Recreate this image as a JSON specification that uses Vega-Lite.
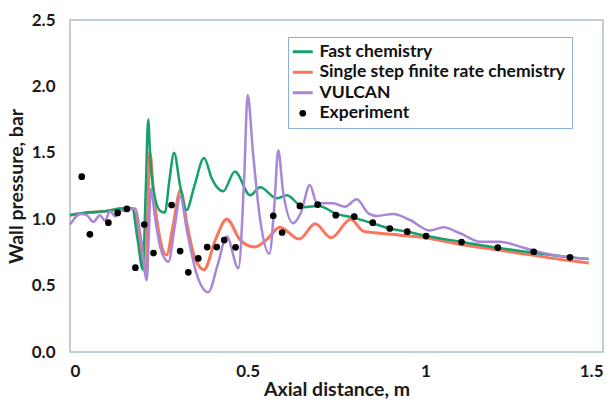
{
  "$schema": "https://vega.github.io/schema/vega-lite/v6.json",
  "autosize": "none",
  "width": 533,
  "height": 332,
  "padding": {"left": 70, "top": 20, "right": 13, "bottom": 49},
  "background": "white",
  "config": {
    "view": {"stroke": "#a9bfd0", "strokeWidth": 1.5},
    "font": "Lato",
    "axis": {"grid": false, "domain": false, "ticks": false, "labelFont": "Lato", "labelFontWeight": "bold", "labelFontSize": 17, "labelColor": "#1a1a1a", "titleFont": "Lato", "titleFontWeight": "bold", "titleFontSize": 19.5, "titleColor": "#1a1a1a"}
  },
  "datasets": {
    "curves": [
      {"series": "Fast chemistry", "x": 0, "y": 1.03},
      {"series": "Fast chemistry", "x": 0.05, "y": 1.05},
      {"series": "Fast chemistry", "x": 0.1, "y": 1.06},
      {"series": "Fast chemistry", "x": 0.15, "y": 1.08},
      {"series": "Fast chemistry", "x": 0.175, "y": 1.08},
      {"series": "Fast chemistry", "x": 0.19, "y": 0.85},
      {"series": "Fast chemistry", "x": 0.205, "y": 0.62},
      {"series": "Fast chemistry", "x": 0.213, "y": 1.2},
      {"series": "Fast chemistry", "x": 0.22, "y": 1.75},
      {"series": "Fast chemistry", "x": 0.226, "y": 1.45},
      {"series": "Fast chemistry", "x": 0.24, "y": 1.15},
      {"series": "Fast chemistry", "x": 0.255, "y": 1.06},
      {"series": "Fast chemistry", "x": 0.267, "y": 1.05},
      {"series": "Fast chemistry", "x": 0.28, "y": 1.3},
      {"series": "Fast chemistry", "x": 0.293, "y": 1.5},
      {"series": "Fast chemistry", "x": 0.31, "y": 1.25},
      {"series": "Fast chemistry", "x": 0.328, "y": 1.07},
      {"series": "Fast chemistry", "x": 0.35, "y": 1.25},
      {"series": "Fast chemistry", "x": 0.377, "y": 1.46},
      {"series": "Fast chemistry", "x": 0.4, "y": 1.3},
      {"series": "Fast chemistry", "x": 0.431, "y": 1.21},
      {"series": "Fast chemistry", "x": 0.464, "y": 1.36},
      {"series": "Fast chemistry", "x": 0.507, "y": 1.18},
      {"series": "Fast chemistry", "x": 0.535, "y": 1.24},
      {"series": "Fast chemistry", "x": 0.582, "y": 1.157},
      {"series": "Fast chemistry", "x": 0.61, "y": 1.18},
      {"series": "Fast chemistry", "x": 0.657, "y": 1.09},
      {"series": "Fast chemistry", "x": 0.7, "y": 1.1},
      {"series": "Fast chemistry", "x": 0.75, "y": 1.04},
      {"series": "Fast chemistry", "x": 0.8, "y": 1.01},
      {"series": "Fast chemistry", "x": 0.85, "y": 0.97},
      {"series": "Fast chemistry", "x": 0.9, "y": 0.93},
      {"series": "Fast chemistry", "x": 0.95, "y": 0.905},
      {"series": "Fast chemistry", "x": 1.0, "y": 0.875},
      {"series": "Fast chemistry", "x": 1.1, "y": 0.83},
      {"series": "Fast chemistry", "x": 1.2, "y": 0.785},
      {"series": "Fast chemistry", "x": 1.3, "y": 0.75},
      {"series": "Fast chemistry", "x": 1.4, "y": 0.715},
      {"series": "Fast chemistry", "x": 1.46, "y": 0.7},

      {"series": "Single step finite rate chemistry", "x": 0, "y": 1.03},
      {"series": "Single step finite rate chemistry", "x": 0.05, "y": 1.05},
      {"series": "Single step finite rate chemistry", "x": 0.1, "y": 1.06},
      {"series": "Single step finite rate chemistry", "x": 0.15, "y": 1.08},
      {"series": "Single step finite rate chemistry", "x": 0.175, "y": 1.08},
      {"series": "Single step finite rate chemistry", "x": 0.19, "y": 0.95},
      {"series": "Single step finite rate chemistry", "x": 0.2, "y": 0.74},
      {"series": "Single step finite rate chemistry", "x": 0.214, "y": 0.6},
      {"series": "Single step finite rate chemistry", "x": 0.22, "y": 1.2},
      {"series": "Single step finite rate chemistry", "x": 0.225, "y": 1.5},
      {"series": "Single step finite rate chemistry", "x": 0.235, "y": 1.2},
      {"series": "Single step finite rate chemistry", "x": 0.25, "y": 0.9},
      {"series": "Single step finite rate chemistry", "x": 0.272, "y": 0.73},
      {"series": "Single step finite rate chemistry", "x": 0.29, "y": 0.95},
      {"series": "Single step finite rate chemistry", "x": 0.311, "y": 1.22},
      {"series": "Single step finite rate chemistry", "x": 0.33, "y": 0.95},
      {"series": "Single step finite rate chemistry", "x": 0.35, "y": 0.72},
      {"series": "Single step finite rate chemistry", "x": 0.377, "y": 0.62},
      {"series": "Single step finite rate chemistry", "x": 0.41, "y": 0.85},
      {"series": "Single step finite rate chemistry", "x": 0.441, "y": 1.0},
      {"series": "Single step finite rate chemistry", "x": 0.48, "y": 0.84},
      {"series": "Single step finite rate chemistry", "x": 0.52, "y": 0.79},
      {"series": "Single step finite rate chemistry", "x": 0.555, "y": 0.85},
      {"series": "Single step finite rate chemistry", "x": 0.59, "y": 0.94},
      {"series": "Single step finite rate chemistry", "x": 0.645, "y": 0.85},
      {"series": "Single step finite rate chemistry", "x": 0.69, "y": 0.965},
      {"series": "Single step finite rate chemistry", "x": 0.735, "y": 0.86},
      {"series": "Single step finite rate chemistry", "x": 0.79, "y": 1.0},
      {"series": "Single step finite rate chemistry", "x": 0.825, "y": 0.91},
      {"series": "Single step finite rate chemistry", "x": 0.87, "y": 0.895},
      {"series": "Single step finite rate chemistry", "x": 0.93, "y": 0.88},
      {"series": "Single step finite rate chemistry", "x": 1.0, "y": 0.86},
      {"series": "Single step finite rate chemistry", "x": 1.1, "y": 0.81},
      {"series": "Single step finite rate chemistry", "x": 1.2, "y": 0.77},
      {"series": "Single step finite rate chemistry", "x": 1.3, "y": 0.73},
      {"series": "Single step finite rate chemistry", "x": 1.4, "y": 0.69},
      {"series": "Single step finite rate chemistry", "x": 1.46, "y": 0.67},

      {"series": "VULCAN", "x": 0, "y": 0.96},
      {"series": "VULCAN", "x": 0.03, "y": 1.04},
      {"series": "VULCAN", "x": 0.047, "y": 1.03},
      {"series": "VULCAN", "x": 0.066, "y": 0.98},
      {"series": "VULCAN", "x": 0.084, "y": 1.03},
      {"series": "VULCAN", "x": 0.098, "y": 0.99},
      {"series": "VULCAN", "x": 0.113, "y": 1.06},
      {"series": "VULCAN", "x": 0.127, "y": 1.02},
      {"series": "VULCAN", "x": 0.141, "y": 1.06},
      {"series": "VULCAN", "x": 0.16, "y": 1.07},
      {"series": "VULCAN", "x": 0.183, "y": 1.08},
      {"series": "VULCAN", "x": 0.2, "y": 0.85},
      {"series": "VULCAN", "x": 0.216, "y": 0.54},
      {"series": "VULCAN", "x": 0.222, "y": 0.9},
      {"series": "VULCAN", "x": 0.227, "y": 1.23},
      {"series": "VULCAN", "x": 0.24, "y": 1.0},
      {"series": "VULCAN", "x": 0.255, "y": 0.78},
      {"series": "VULCAN", "x": 0.277, "y": 0.68},
      {"series": "VULCAN", "x": 0.295, "y": 0.95},
      {"series": "VULCAN", "x": 0.31, "y": 1.17},
      {"series": "VULCAN", "x": 0.33, "y": 0.9},
      {"series": "VULCAN", "x": 0.355, "y": 0.6},
      {"series": "VULCAN", "x": 0.389, "y": 0.45},
      {"series": "VULCAN", "x": 0.415, "y": 0.65},
      {"series": "VULCAN", "x": 0.441, "y": 0.87},
      {"series": "VULCAN", "x": 0.474, "y": 0.63},
      {"series": "VULCAN", "x": 0.49, "y": 1.3},
      {"series": "VULCAN", "x": 0.5, "y": 1.935},
      {"series": "VULCAN", "x": 0.515, "y": 1.5},
      {"series": "VULCAN", "x": 0.535, "y": 1.0},
      {"series": "VULCAN", "x": 0.561, "y": 0.74},
      {"series": "VULCAN", "x": 0.575, "y": 1.1},
      {"series": "VULCAN", "x": 0.586, "y": 1.52},
      {"series": "VULCAN", "x": 0.6, "y": 1.2},
      {"series": "VULCAN", "x": 0.628, "y": 0.97},
      {"series": "VULCAN", "x": 0.65, "y": 1.05},
      {"series": "VULCAN", "x": 0.675, "y": 1.257},
      {"series": "VULCAN", "x": 0.695, "y": 1.12},
      {"series": "VULCAN", "x": 0.74, "y": 1.12},
      {"series": "VULCAN", "x": 0.774, "y": 1.094},
      {"series": "VULCAN", "x": 0.807, "y": 1.15},
      {"series": "VULCAN", "x": 0.84, "y": 1.044},
      {"series": "VULCAN", "x": 0.863, "y": 1.025},
      {"series": "VULCAN", "x": 0.91, "y": 1.04},
      {"series": "VULCAN", "x": 0.957, "y": 0.994},
      {"series": "VULCAN", "x": 1.013, "y": 0.915},
      {"series": "VULCAN", "x": 1.051, "y": 0.939},
      {"series": "VULCAN", "x": 1.098, "y": 0.894},
      {"series": "VULCAN", "x": 1.154, "y": 0.83},
      {"series": "VULCAN", "x": 1.21, "y": 0.83},
      {"series": "VULCAN", "x": 1.267, "y": 0.793},
      {"series": "VULCAN", "x": 1.304, "y": 0.765},
      {"series": "VULCAN", "x": 1.36, "y": 0.73},
      {"series": "VULCAN", "x": 1.459, "y": 0.7}
    ],
    "experiment": [
      {"series": "Experiment", "x": 0.033, "y": 1.32},
      {"series": "Experiment", "x": 0.056, "y": 0.886},
      {"series": "Experiment", "x": 0.108, "y": 0.974},
      {"series": "Experiment", "x": 0.134, "y": 1.047},
      {"series": "Experiment", "x": 0.16, "y": 1.077},
      {"series": "Experiment", "x": 0.184, "y": 0.635},
      {"series": "Experiment", "x": 0.209, "y": 0.96},
      {"series": "Experiment", "x": 0.235, "y": 0.745},
      {"series": "Experiment", "x": 0.286, "y": 1.107},
      {"series": "Experiment", "x": 0.31, "y": 0.76},
      {"series": "Experiment", "x": 0.333, "y": 0.6},
      {"series": "Experiment", "x": 0.361, "y": 0.705},
      {"series": "Experiment", "x": 0.386, "y": 0.79},
      {"series": "Experiment", "x": 0.413, "y": 0.79},
      {"series": "Experiment", "x": 0.434, "y": 0.843},
      {"series": "Experiment", "x": 0.466, "y": 0.788},
      {"series": "Experiment", "x": 0.572, "y": 1.026},
      {"series": "Experiment", "x": 0.597, "y": 0.9},
      {"series": "Experiment", "x": 0.647, "y": 1.1},
      {"series": "Experiment", "x": 0.697, "y": 1.11},
      {"series": "Experiment", "x": 0.748, "y": 1.03},
      {"series": "Experiment", "x": 0.8, "y": 1.02},
      {"series": "Experiment", "x": 0.852, "y": 0.974},
      {"series": "Experiment", "x": 0.9, "y": 0.93},
      {"series": "Experiment", "x": 0.949, "y": 0.906},
      {"series": "Experiment", "x": 1.002, "y": 0.873},
      {"series": "Experiment", "x": 1.102, "y": 0.828},
      {"series": "Experiment", "x": 1.204, "y": 0.786},
      {"series": "Experiment", "x": 1.305, "y": 0.755},
      {"series": "Experiment", "x": 1.407, "y": 0.713}
    ]
  },
  "encoding": {
    "x": {"field": "x", "type": "quantitative", "scale": {"domain": [0, 1.5], "nice": false}, "axis": {"values": [0, 0.5, 1, 1.5], "format": "~g", "labelPadding": 11, "title": "Axial distance, m", "titlePadding": 1}},
    "y": {"field": "y", "type": "quantitative", "scale": {"domain": [0, 2.5], "nice": false}, "axis": {"values": [0, 0.5, 1, 1.5, 2, 2.5], "format": ".1f", "labelPadding": 15, "title": "Wall pressure, bar", "titlePadding": 5}},
    "color": {
      "field": "series", "type": "nominal",
      "scale": {"domain": ["Fast chemistry", "Single step finite rate chemistry", "VULCAN", "Experiment"], "range": ["#17a06f", "#f7765c", "#a887d6", "#000000"]},
      "legend": {
        "title": null, "orient": "none", "legendX": 218, "legendY": 17,
        "padding": 6, "strokeColor": "#8ab0e0", "fillColor": "white",
        "labelFont": "Lato", "labelFontWeight": "bold", "labelFontSize": 17.5, "labelColor": "#111111", "labelLimit": 400,
        "rowPadding": 1.5, "symbolSize": 400, "labelOffset": 8,
        "encode": {"symbols": {"update": {
          "shape": {"signal": "datum.label === 'Experiment' ? 'circle' : 'stroke'"},
          "size": {"signal": "datum.label === 'Experiment' ? 45 : 400"},
          "strokeWidth": {"signal": "datum.label === 'Experiment' ? 0 : 3"},
          "fill": {"signal": "datum.label === 'Experiment' ? 'black' : 'transparent'"},
          "stroke": {"signal": "scale('color', datum.value)"}
        }}}
      }
    }
  },
  "layer": [
    {"data": {"name": "curves"}, "transform": [{"filter": "datum.series === 'Single step finite rate chemistry'"}], "mark": {"type": "line", "strokeWidth": 3, "interpolate": "monotone"}},
    {"data": {"name": "curves"}, "transform": [{"filter": "datum.series === 'Fast chemistry'"}], "mark": {"type": "line", "strokeWidth": 2.5, "interpolate": "monotone"}},
    {"data": {"name": "curves"}, "transform": [{"filter": "datum.series === 'VULCAN'"}], "mark": {"type": "line", "strokeWidth": 2.5, "interpolate": "monotone"}},
    {"data": {"name": "experiment"}, "mark": {"type": "point", "filled": true, "size": 45, "opacity": 1}}
  ]
}
